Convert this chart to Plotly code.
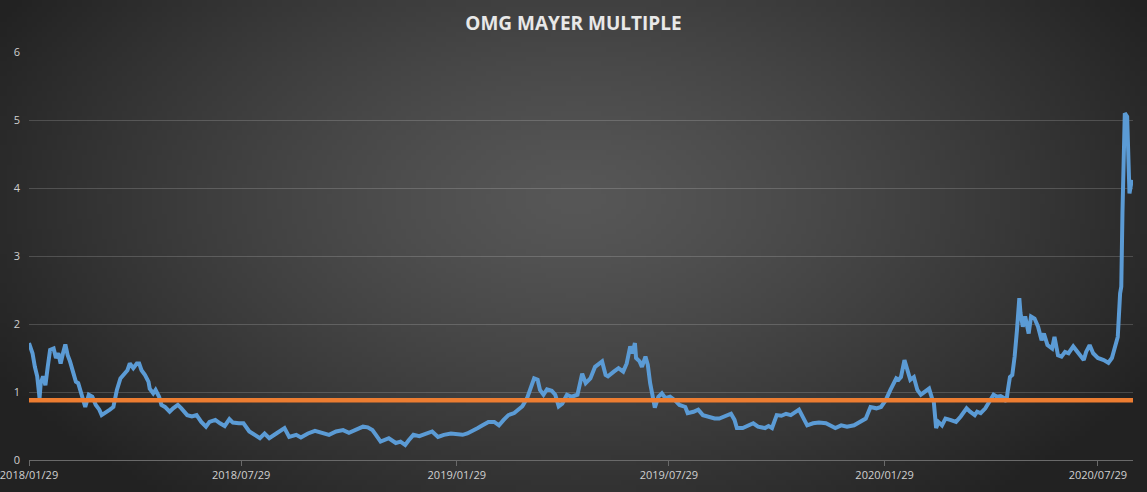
import base64
import struct
import zlib

import numpy as np
import pandas as pd
import plotly.graph_objects as go

start = pd.Timestamp("2018-01-29")

# days since 2018/01/29 and the Mayer multiple
days = [0, 3, 5, 7, 9, 10, 12, 14, 16, 18, 21, 23, 25, 27, 29, 31, 33, 35, 38, 40,
        42, 45, 48, 51, 54, 57, 60, 62, 65, 69, 72, 75, 78, 81, 84, 86, 89, 92, 94, 96,
        99, 102, 103, 106, 108, 111, 113, 116, 120, 123, 127, 130, 135, 139, 143, 147, 151, 154, 159, 163,
        167, 171, 174, 179, 183, 188, 197, 201, 205, 211, 218, 222, 228, 232, 238, 244, 249, 256, 262, 268,
        273, 279, 285, 289, 293, 296, 300, 307, 313, 317, 321, 324, 328, 333, 339, 344, 349, 354, 360, 366,
        370, 374, 378, 383, 387, 392, 397, 401, 405, 409, 414, 417, 421, 425, 428, 431, 434, 436, 439, 442,
        446, 449, 452, 455, 459, 463, 468, 469, 472, 475, 479, 483, 486, 489, 492, 494, 499, 503, 507, 510,
        513, 515, 517, 518, 521, 523, 526, 528, 530, 532, 534, 537, 540, 543, 547, 551, 555, 560, 562, 567,
        571, 575, 579, 585, 589, 594, 599, 602, 604, 609, 613, 618, 622, 628, 631, 634, 638, 642, 646, 650,
        657, 660, 664, 669, 674, 680, 684, 688, 693, 698, 704, 710, 714, 718, 723, 727, 731, 735, 740, 742,
        744, 747, 750, 752, 755, 758, 761, 764, 768, 771, 772, 774, 776, 779, 782, 786, 791, 795, 800, 803,
        807, 809, 812, 816, 820, 823, 826, 829, 832, 834, 835, 837, 839, 841, 843, 845, 846, 848, 850, 853,
        855, 858, 861, 864, 866, 869, 873, 875, 878, 881, 884, 887, 891, 895, 900, 902, 905, 908, 912, 917,
        921, 924, 926, 927, 929, 931, 932, 933, 934, 935, 937, 938, 939, 941]
mayer = [1.72, 1.57, 1.37, 1.23, 0.91, 1.13, 1.23, 1.10, 1.37, 1.62, 1.64, 1.50, 1.57, 1.42, 1.57, 1.70, 1.54, 1.45, 1.27, 1.15,
         1.13, 0.93, 0.78, 0.96, 0.93, 0.81, 0.74, 0.66, 0.69, 0.74, 0.78, 1.03, 1.20, 1.27, 1.32, 1.42, 1.35, 1.42, 1.42, 1.32,
         1.25, 1.15, 1.05, 0.98, 1.03, 0.93, 0.81, 0.78, 0.71, 0.76, 0.81, 0.76, 0.66, 0.64, 0.66, 0.56, 0.49, 0.56, 0.59, 0.54,
         0.50, 0.60, 0.55, 0.54, 0.54, 0.42, 0.32, 0.39, 0.32, 0.39, 0.47, 0.34, 0.37, 0.33, 0.39, 0.43, 0.40, 0.37, 0.42, 0.44,
         0.40, 0.45, 0.49, 0.48, 0.44, 0.37, 0.27, 0.32, 0.25, 0.27, 0.22, 0.29, 0.37, 0.35, 0.39, 0.42, 0.34, 0.37, 0.39, 0.37,
         0.37, 0.39, 0.42, 0.47, 0.51, 0.56, 0.56, 0.51, 0.59, 0.66, 0.69, 0.74, 0.79, 0.91, 1.05, 1.20, 1.18, 1.03, 0.96, 1.04,
         1.02, 0.96, 0.79, 0.83, 0.96, 0.93, 0.96, 1.03, 1.27, 1.13, 1.20, 1.37, 1.42, 1.45, 1.25, 1.23, 1.30, 1.35, 1.30, 1.42,
         1.67, 1.57, 1.72, 1.50, 1.45, 1.37, 1.52, 1.40, 1.13, 0.93, 0.77, 0.93, 0.98, 0.91, 0.93, 0.88, 0.81, 0.78, 0.69, 0.71,
         0.74, 0.66, 0.64, 0.61, 0.61, 0.64, 0.68, 0.59, 0.47, 0.47, 0.50, 0.54, 0.49, 0.47, 0.50, 0.47, 0.66, 0.65, 0.68, 0.66,
         0.74, 0.64, 0.51, 0.54, 0.55, 0.54, 0.51, 0.47, 0.51, 0.49, 0.51, 0.58, 0.61, 0.78, 0.76, 0.78, 0.88, 1.03, 1.20, 1.18,
         1.22, 1.47, 1.27, 1.18, 1.22, 1.03, 0.96, 1.00, 1.05, 0.88, 0.86, 0.47, 0.56, 0.51, 0.61, 0.59, 0.56, 0.64, 0.76, 0.71,
         0.66, 0.71, 0.69, 0.76, 0.88, 0.96, 0.93, 0.94, 0.91, 0.86, 1.00, 1.22, 1.25, 1.52, 1.91, 2.38, 2.16, 1.96, 2.11, 1.86,
         2.11, 2.08, 1.96, 1.76, 1.86, 1.69, 1.64, 1.81, 1.54, 1.52, 1.59, 1.57, 1.67, 1.57, 1.47, 1.59, 1.69, 1.57, 1.50, 1.47,
         1.43, 1.50, 1.62, 1.72, 1.81, 2.45, 2.55, 3.63, 4.61, 5.10, 5.05, 4.61, 3.92, 4.12]
mean_level = 0.88
tick_dates = ["2018-01-29", "2018-07-29", "2019-01-29", "2019-07-29", "2020-01-29", "2020-07-29"]
end_day = 942

dates = start + pd.to_timedelta(days, unit="D")
x_end = start + pd.Timedelta(days=end_day)


# radial grey background (Excel style), built as a small png
def gradient_png(w=230, h=100):
    yy, xx = np.mgrid[0:h, 0:w]
    d = np.sqrt(((xx - w * 0.5) / (w * 0.55)) ** 2 + ((yy - h * 0.4) / (h * 0.75)) ** 2)
    g = np.clip(0x57 - (0x57 - 0x25) * d ** 1.3, 0x22, 0x60).astype(np.uint8)
    rows = b"".join(b"\x00" + bytes(np.repeat(r, 3)) for r in g)

    def chunk(tag, data):
        return struct.pack(">I", len(data)) + tag + data + struct.pack(">I", zlib.crc32(tag + data) & 0xffffffff)

    png = b"\x89PNG\r\n\x1a\n" + chunk(b"IHDR", struct.pack(">IIBBBBB", w, h, 8, 2, 0, 0, 0))
    png += chunk(b"IDAT", zlib.compress(rows)) + chunk(b"IEND", b"")
    return "data:image/png;base64," + base64.b64encode(png).decode()


W, H = 1147, 492
ml, mr, mt, mb = 29, 14, 52, 32
pw, ph = W - ml - mr, H - mt - mb

fig = go.Figure()
fig.add_trace(go.Scatter(x=dates, y=mayer, mode="lines", name="Mayer Multiple",
                         line=dict(color="#5B9BD5", width=4)))
fig.add_trace(go.Scatter(x=[start, x_end], y=[mean_level, mean_level], mode="lines", name="Mean",
                         line=dict(color="#ED7D31", width=4.5)))

fig.update_layout(
    width=W, height=H,
    margin=dict(l=ml, r=mr, t=mt, b=mb),
    paper_bgcolor="#2b2b2b", plot_bgcolor="rgba(0,0,0,0)",
    showlegend=False,
    title=dict(text="<b>OMG MAYER MULTIPLE</b>", x=0.5, xanchor="center", y=1 - 23.5 / H, yanchor="middle",
               font=dict(family="Open Sans", size=19, color="#e8e8e8")),
    font=dict(family="Open Sans", color="#d0d0d0", size=11),
    images=[dict(source=gradient_png(), xref="paper", yref="paper",
                 x=-ml / pw, y=(ph + mt) / ph, sizex=W / pw, sizey=H / ph,
                 sizing="stretch", layer="below", xanchor="left", yanchor="top")],
)
fig.update_xaxes(range=[start, x_end], tickmode="array", tickvals=tick_dates, tickformat="%Y/%m/%d",
                 showgrid=False, zeroline=False, showline=True, linecolor="#6a6a6a", linewidth=1,
                 ticks="outside", ticklen=5, tickcolor="#6a6a6a", ticklabeloverflow="allow",
                 automargin=False, tickfont=dict(size=11, color="#d0d0d0"))
fig.update_yaxes(range=[0, 6], dtick=1, showgrid=True, gridcolor="rgba(255,255,255,0.17)", gridwidth=1,
                 zeroline=False, showline=False, ticks="", ticklabelstandoff=8, automargin=False,
                 tickfont=dict(size=11, color="#d0d0d0"))

fig.write_html("out.html", config={"displayModeBar": False},
               post_script="document.body.style.margin='0px';")
